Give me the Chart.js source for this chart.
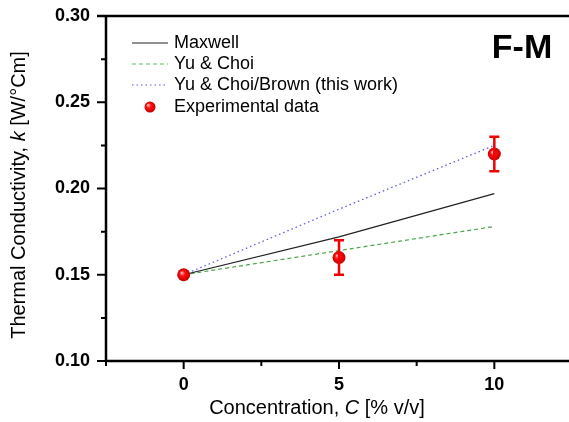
<!DOCTYPE html>
<html>
<head>
<meta charset="utf-8">
<script src="https://cdn.jsdelivr.net/npm/chart.js@4.4.1/dist/chart.umd.min.js"></script>
<style>
  html, body { margin: 0; padding: 0; background: #fff; overflow: hidden; }
  #wrap { width: 572px; height: 422px; }
</style>
</head>
<body>
<div id="wrap"><canvas id="grafico"></canvas></div>
<script>
// dados
const concentracao = [0, 5, 10];
const maxwell = [0.150, 0.172, 0.197];
const yuChoi = [0.150, 0.164, 0.178];
const yuChoiBrown = [0.150, 0.188, 0.225];
const expValores = [0.150, 0.160, 0.220];
const expErros = [0, 0.010, 0.010];
const xRotulos = [0, 5, 10];
const yRotulos = [0.10, 0.15, 0.20, 0.25, 0.30];

const FONTE = "'Liberation Sans', Arial, sans-serif";

function pontos(ys) {
    return concentracao.map((x, i) => ({ x: x, y: ys[i] }));
}

// bolinha vermelha com brilho
function corEsfera(c) {
    const s = c.chart.scales;
    if (!s || !s.x || !s.y || !c.parsed || c.parsed.x === undefined) return "#f00000";
    const x = s.x.getPixelForValue(c.parsed.x);
    const y = s.y.getPixelForValue(c.parsed.y);
    if (!isFinite(x) || !isFinite(y)) return "#f00000";
    const g = c.chart.ctx.createRadialGradient(x - 2, y - 2, 0.5, x, y, 6.5);
    g.addColorStop(0, "#ffb0b0");
    g.addColorStop(0.35, "#ff1010");
    g.addColorStop(1, "#c00000");
    return g;
}

function textoMisto(ctx, partes, cx, cy, rot) {
    ctx.save();
    ctx.translate(cx, cy);
    if (rot) ctx.rotate(rot);
    let total = 0;
    partes.forEach(p => { ctx.font = p[1]; total += ctx.measureText(p[0]).width; });
    let x = -total / 2;
    ctx.textBaseline = "middle";
    ctx.textAlign = "left";
    ctx.fillStyle = "#000";
    partes.forEach(p => {
        ctx.font = p[1];
        ctx.fillText(p[0], x, 0);
        x += ctx.measureText(p[0]).width;
    });
    ctx.restore();
}

const eixosPlugin = {
    id: "eixos",
    afterDatasetsDraw(chart) {
        const ctx = chart.ctx;
        const xs = chart.scales.x, ys = chart.scales.y;

        // barras de erro
        ctx.save();
        ctx.strokeStyle = "#f00000";
        ctx.lineWidth = 2.5;
        concentracao.forEach((c, i) => {
            if (!expErros[i]) return;
            const px = xs.getPixelForValue(c);
            const top = ys.getPixelForValue(expValores[i] + expErros[i]);
            const bot = ys.getPixelForValue(expValores[i] - expErros[i]);
            ctx.beginPath();
            ctx.moveTo(px, top); ctx.lineTo(px, bot);
            ctx.moveTo(px - 5, top); ctx.lineTo(px + 5, top);
            ctx.moveTo(px - 5, bot); ctx.lineTo(px + 5, bot);
            ctx.stroke();
        });
        ctx.restore();
    },
    afterDraw(chart) {
        const ctx = chart.ctx;
        const xs = chart.scales.x, ys = chart.scales.y;
        const area = chart.chartArea;

        ctx.save();
        ctx.strokeStyle = "#000";
        ctx.lineWidth = 2.5;
        ctx.beginPath();
        ctx.moveTo(area.left - 9, area.top); ctx.lineTo(chart.width, area.top);
        ctx.moveTo(area.left, area.top); ctx.lineTo(area.left, area.bottom + 1);
        ctx.moveTo(area.left - 1, area.bottom); ctx.lineTo(chart.width, area.bottom);
        ctx.stroke();

        // marcas dos eixos
        ctx.lineWidth = 2;
        ctx.beginPath();
        ys.ticks.forEach(t => {
            const py = ys.getPixelForValue(t.value);
            const maior = yRotulos.some(v => Math.abs(v - t.value) < 1e-6);
            ctx.moveTo(area.left - (maior ? 9 : 5), py); ctx.lineTo(area.left, py);
        });
        xs.ticks.forEach(t => {
            const px = xs.getPixelForValue(t.value);
            const maior = xRotulos.includes(t.value);
            ctx.moveTo(px, area.bottom); ctx.lineTo(px, area.bottom + (maior ? 8 : 5));
        });
        ctx.stroke();
        ctx.restore();

        // títulos dos eixos
        textoMisto(ctx, [["Thermal Conductivity, ", "20px " + FONTE], ["k", "italic 20px " + FONTE], [" [W/°Cm]", "20px " + FONTE]], 19, 195, -Math.PI / 2);
        textoMisto(ctx, [["Concentration, ", "20px " + FONTE], ["C", "italic 20px " + FONTE], [" [% v/v]", "20px " + FONTE]], 317, 408, 0);

        // rótulo F-M
        ctx.save();
        ctx.font = "bold 34px " + FONTE;
        ctx.fillStyle = "#000";
        ctx.textAlign = "center";
        ctx.textBaseline = "middle";
        ctx.fillText("F-M", 522, 49);
        ctx.restore();

        // legenda
        const legenda = [
            { texto: "Maxwell", cor: "#222", dash: [], tipo: "linha" },
            { texto: "Yu & Choi", cor: "#5cb85c", dash: [4, 3], tipo: "linha" },
            { texto: "Yu & Choi/Brown (this work)", cor: "#6060e0", dash: [1.5, 3], tipo: "linha" },
            { texto: "Experimental data", cor: "#f00000", tipo: "ponto" }
        ];
        const linhasY = [43, 64, 85, 107];
        ctx.save();
        ctx.font = "18px " + FONTE;
        ctx.textBaseline = "middle";
        legenda.forEach((item, i) => {
            const y = linhasY[i];
            if (item.tipo === "linha") {
                ctx.strokeStyle = item.cor;
                ctx.lineWidth = 1.2;
                ctx.setLineDash(item.dash);
                ctx.beginPath();
                ctx.moveTo(132, y); ctx.lineTo(168, y);
                ctx.stroke();
                ctx.setLineDash([]);
            } else {
                const g = ctx.createRadialGradient(148, y - 2, 0.5, 150, y, 6);
                g.addColorStop(0, "#ffb0b0");
                g.addColorStop(0.35, "#ff1010");
                g.addColorStop(1, "#c00000");
                ctx.fillStyle = g;
                ctx.beginPath();
                ctx.arc(150, y, 5.5, 0, Math.PI * 2);
                ctx.fill();
            }
            ctx.fillStyle = "#000";
            ctx.fillText(item.texto, 174, y);
        });
        ctx.restore();
    }
};

function semSobra(s) {
    s.paddingLeft = 0; s.paddingRight = 0;
    s.paddingTop = 0; s.paddingBottom = 0;
}

const ctx = document.getElementById("grafico").getContext("2d");
const grafico = new Chart(ctx, {
    type: "scatter",
    data: {
        datasets: [
            {
                label: "Experimental data",
                data: pontos(expValores),
                showLine: false,
                pointRadius: 6.5,
                pointBorderWidth: 0,
                pointBackgroundColor: corEsfera,
                order: 0
            },
            {
                label: "Maxwell",
                data: pontos(maxwell),
                showLine: true,
                borderColor: "#222",
                borderWidth: 1.2,
                pointRadius: 0,
                order: 1
            },
            {
                label: "Yu & Choi",
                data: pontos(yuChoi),
                showLine: true,
                borderColor: "#4aa64a",
                borderWidth: 1.2,
                borderDash: [4, 3],
                pointRadius: 0,
                order: 1
            },
            {
                label: "Yu & Choi/Brown (this work)",
                data: pontos(yuChoiBrown),
                showLine: true,
                borderColor: "#5a5ae0",
                borderWidth: 1.3,
                borderDash: [1.5, 3],
                pointRadius: 0,
                order: 1
            }
        ]
    },
    options: {
        responsive: true,
        maintainAspectRatio: false,
        animation: false,
        layout: { autoPadding: false, padding: { top: 16, right: 0, left: 0, bottom: 0 } },
        plugins: {
            legend: { display: false },
            tooltip: { enabled: false }
        },
        scales: {
            x: {
                type: "linear",
                min: -2.5,
                max: 12.5,
                grid: { display: false, drawTicks: false },
                border: { display: false },
                ticks: {
                    stepSize: 2.5,
                    padding: 13,
                    color: "#000",
                    font: { family: FONTE, size: 18, weight: "bold" },
                    callback: v => xRotulos.includes(v) ? String(v) : ""
                },
                afterFit: s => { s.height = 61; semSobra(s); }
            },
            y: {
                type: "linear",
                min: 0.10,
                max: 0.30,
                grid: { display: false, drawTicks: false },
                border: { display: false },
                ticks: {
                    stepSize: 0.025,
                    padding: 16,
                    color: "#000",
                    font: { family: FONTE, size: 18, weight: "bold" },
                    callback: v => yRotulos.some(r => Math.abs(r - v) < 1e-6) ? v.toFixed(2) : ""
                },
                afterFit: s => { s.width = 106; semSobra(s); }
            }
        }
    },
    plugins: [eixosPlugin]
});
</script>
</body>
</html>
